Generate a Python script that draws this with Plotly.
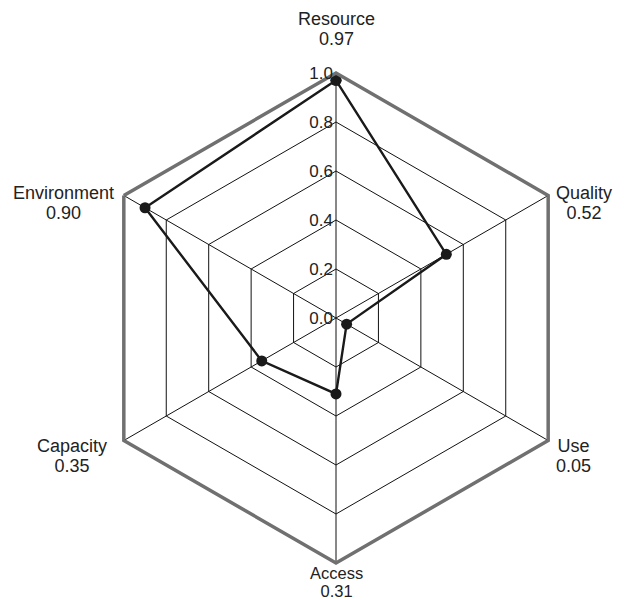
import math
import plotly.graph_objects as go

categories = ["Resource", "Quality", "Use", "Access", "Capacity", "Environment"]
values = [0.97, 0.52, 0.05, 0.31, 0.35, 0.90]
radial_ticks = [0.0, 0.2, 0.4, 0.6, 0.8, 1.0]

fig = go.Figure()
fig.add_trace(go.Scatterpolar(
    r=values + values[:1],
    theta=categories + categories[:1],
    mode="lines+markers",
    line=dict(color="#1a1a1a", width=2.4),
    marker=dict(color="#1a1a1a", size=11),
    showlegend=False,
))

FONT = "Liberation Sans, Arial, sans-serif"

# category labels (name + value) placed just outside each vertex of the hexagon
annotations = []
n = len(categories)
for i, (c, v) in enumerate(zip(categories, values)):
    th = math.radians(90 - 360 * i / n)
    cx, sy = math.cos(th), math.sin(th)
    x = 0.5 + 0.5 * cx
    y = 0.5 + 0.5 * sy
    base, size = 15, 18
    if sy > 0.9:
        xanchor, xshift, yanchor, yshift = "center", 0, "bottom", 22
    elif sy < -0.9:
        xanchor, xshift, yanchor, yshift = "center", 0, "top", 1
        base, size = 13.5, 16.5
    else:
        if cx > 0:
            xanchor, xshift = "left", 6
        else:
            xanchor, xshift = "right", -8
        if sy > 0:
            yanchor, yshift = "middle", -7
        else:
            yanchor, yshift = "top", 7
            if cx < 0:
                xshift = -15
    text = (f"<span style='font-size:{size}px'>{c}</span><br>"
            f"<span style='font-size:{size}px'>{v:.2f}</span>")
    annotations.append(dict(
        x=x, y=y, xref="paper", yref="paper", text=text, showarrow=False,
        xanchor=xanchor, yanchor=yanchor, xshift=xshift, yshift=yshift,
        align="center", font=dict(family=FONT, size=base, color="#222"),
    ))

fig.update_layout(
    width=624, height=600,
    margin=dict(l=91, r=43, t=73, b=37),
    paper_bgcolor="white",
    plot_bgcolor="white",
    font=dict(family=FONT, size=17, color="#222"),
    annotations=annotations,
    polar=dict(
        bgcolor="white",
        gridshape="linear",
        domain=dict(x=[0, 1], y=[0, 1]),
        radialaxis=dict(
            range=[0, 1.0],
            tickvals=radial_ticks,
            ticktext=[f"{t:.1f}" for t in radial_ticks],
            angle=90,
            tickangle=90,
            side="counterclockwise",
            showline=False,
            ticks="",
            gridcolor="#111",
            gridwidth=1,
            tickfont=dict(size=17, color="#222"),
        ),
        angularaxis=dict(
            rotation=90,
            direction="clockwise",
            tickvals=categories,
            showticklabels=False,
            showline=True,
            linecolor="#707070",
            linewidth=3.5,
            gridcolor="#111",
            gridwidth=1,
            ticks="",
        ),
    ),
)

fig.write_html("out.html", config={"displayModeBar": False},
               post_script="document.body.style.margin='0';")
